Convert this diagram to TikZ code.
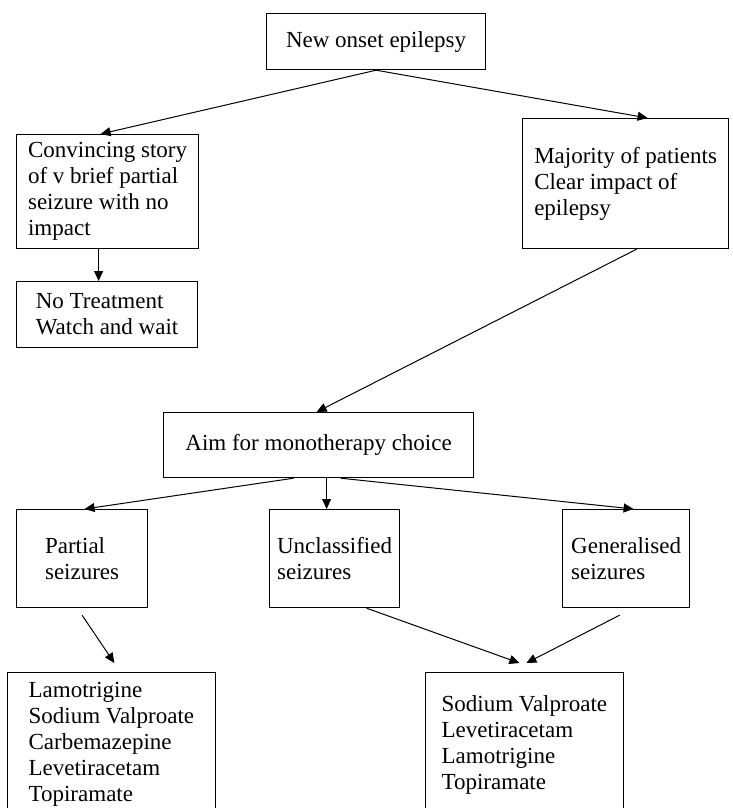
\documentclass[tikz,border=0pt]{standalone}
\usepackage{fontspec}
\setmainfont{Liberation Serif}
\usetikzlibrary{arrows.meta}
\begin{document}
\begin{tikzpicture}[x=0.5pt,y=-0.5pt,%
% common options for boxes:
box/.style = {draw, line width=0.6pt, align=left, anchor=north west,
            inner ysep=0, font=\fontsize{11.5}{13}\selectfont},
% common options for the arrows:
link/.style = {-{Triangle[length=5pt,width=4.5pt]}, line width=0.5pt}]
\path[use as bounding box, clip] (0,0) rectangle (733,808);
\node[box,align=center,minimum width=109.5pt,minimum height=28pt] (T0) at (266,13) {New onset epilepsy};
\node[box,minimum width=91pt,minimum height=57pt] (L1) at (16,134) {Convincing story\\of v brief partial\\seizure with no\\impact};
\node[box,minimum width=103pt,minimum height=65pt] (R1) at (522,118) {Majority of patients\\Clear impact of\\epilepsy};
\node[box,minimum width=90.5pt,minimum height=33pt] (L2) at (16,281) {No Treatment\\Watch and wait};
\node[box,align=center,minimum width=155pt,minimum height=32.5pt] (M0) at (163,412) {Aim for monotherapy choice};
\node[box,minimum width=65.5pt,minimum height=49pt] (P1) at (16,509) {Partial\\seizures};
\node[box,minimum width=65pt,minimum height=49pt] (U1) at (269,509) {Unclassified\\seizures};
\node[box,minimum width=63.5pt,minimum height=49pt] (G1) at (562,509) {Generalised\\seizures};
\node[box,minimum width=104.25pt,minimum height=72pt] (P2) at (6.5,672) {Lamotrigine\\Sodium Valproate\\Carbemazepine\\Levetiracetam\\Topiramate};
\node[box,minimum width=99.25pt,minimum height=72.5pt] (G2) at (424.5,672) {Sodium Valproate\\Levetiracetam\\Lamotrigine\\Topiramate};
\draw[link] (T0.south) -- ([xshift=-3.5pt]L1.north);
\draw[link] (T0.south) -- ([xshift=11pt]R1.north);
\draw[link] ([xshift=-4.5pt]L1.south) -- ([xshift=-4.25pt]L2.north);
\draw[link] ([xshift=5.5pt]R1.south) -- ([xshift=-1pt]M0.north);
\draw[link] ([xshift=-12.5pt]M0.south) -- ([xshift=1.25pt]P1.north);
\draw[link] ([xshift=4pt]M0.south) -- ([xshift=-4pt]U1.north);
\draw[link] ([xshift=11pt]M0.south) -- ([xshift=3.75pt]G1.north);
\draw[link] ([yshift=-3.5pt]P1.south) -- ([xshift=1.5pt,yshift=4.5pt]P2.north);
\draw[link] ([xshift=16pt]U1.south) -- ([xshift=-2.5pt,yshift=4.5pt]G2.north);
\draw[link] ([xshift=-3.25pt,yshift=-3.5pt]G1.south) -- ([xshift=1pt,yshift=4.5pt]G2.north);
\end{tikzpicture}
\end{document}
